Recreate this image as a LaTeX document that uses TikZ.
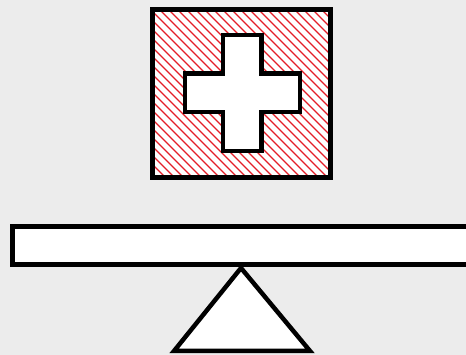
\documentclass[tikz,border=0pt]{standalone}
\usepackage{tikz}
\definecolor{bg}{RGB}{236,236,236}
\definecolor{hatch}{RGB}{228,30,40}
\tikzset{
  outline/.style={draw=black, line width=4.5pt, line join=miter},
  hatchline/.style={draw=hatch, line width=1.3pt}
}
\begin{document}
\begin{tikzpicture}[x=1pt,y=-1pt]
\fill[bg] (0,0) rectangle (466,355);
\useasboundingbox (0,0) rectangle (466,355);
% square with hatching
\coordinate (sqA) at (152.5,9.5);
\coordinate (sqB) at (330.5,177.5);
\fill[white] (sqA) rectangle (sqB);
\begin{scope}
  \clip (sqA) rectangle (sqB);
  \foreach \c in {-180,-171,...,190} {
    \draw[hatchline] (150+\c,0) -- (350+\c,200);
  }
\end{scope}
\draw[outline] (sqA) rectangle (sqB);
% cross
\draw[outline, fill=white] (223,35) -- (261.5,35) -- (261.5,73.5) -- (300,73.5) -- (300,112)
  -- (261.5,112) -- (261.5,151) -- (223,151) -- (223,112) -- (185,112) -- (185,73.5)
  -- (223,73.5) -- cycle;
% bar
\draw[outline, fill=white] (12.5,226.5) rectangle (480,264.5);
% fulcrum
\draw[outline, fill=white] (241,268) -- (310,351) -- (174,351) -- cycle;
\end{tikzpicture}
\end{document}
